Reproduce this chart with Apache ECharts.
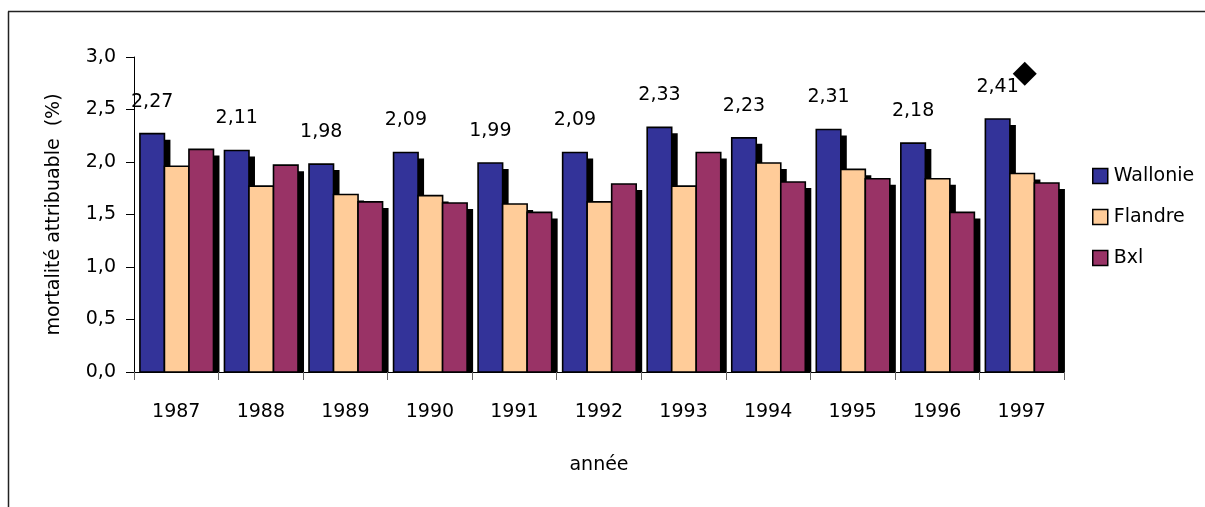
<!DOCTYPE html>
<html>
<head>
<meta charset="utf-8">
<script src="https://cdn.jsdelivr.net/npm/echarts@6/dist/echarts.min.js"></script>
<style>
html,body{margin:0;padding:0;background:#fff;}
#chart{width:1205px;height:507px;}
</style>
</head>
<body>
<div id="chart"></div>
<script>
var years = ['1987','1988','1989','1990','1991','1992','1993','1994','1995','1996','1997'];
var wallonie = [2.27, 2.11, 1.98, 2.09, 1.99, 2.09, 2.33, 2.23, 2.31, 2.18, 2.41];
var flandre  = [1.96, 1.77, 1.69, 1.68, 1.60, 1.62, 1.77, 1.99, 1.93, 1.84, 1.89];
var bxl      = [2.12, 1.97, 1.62, 1.61, 1.52, 1.79, 2.09, 1.81, 1.84, 1.52, 1.80];
var markerPoint = [['1997', 2.84]];
var yTicks = [0, 0.5, 1.0, 1.5, 2.0, 2.5, 3.0];

var FONT = 'DejaVu Sans';
var colors = {Wallonie:'#333399', Flandre:'#FFCC99', Bxl:'#993366'};

function fmt(v, d){ return v.toFixed(d).replace('.', ','); }

function makeRender(idx, withLabel){
  return function(params, api){
    var ci = api.value(0), val = api.value(1);
    var base = api.coord([ci, 0]);
    var top = api.coord([ci, val]);
    var bandW = api.size([1, 0])[0];
    var barW = bandW * 0.29;
    var x = base[0] - bandW/2 + bandW*0.07 + idx*barW;
    var h = base[1] - top[1];
    var children = [
      {type:'rect', shape:{x:x+6, y:top[1]+6, width:barW, height:Math.max(0,h-6)}, style:{fill:'#000'}},
      {type:'rect', shape:{x:x, y:top[1], width:barW, height:h}, style:api.style({stroke:'#000', lineWidth:1.6})}
    ];
    if (withLabel){
      children.push({type:'text', x:x+barW/2, y:top[1]-32,
        style:{text:fmt(val,2), align:'center', verticalAlign:'middle', fontSize:19, fontFamily:FONT, fill:'#000'}});
    }
    return {type:'group', children:children};
  };
}

function seriesData(arr){ return arr.map(function(v,i){ return [i, v]; }); }

var chart = echarts.init(document.getElementById('chart'), null, {renderer:'canvas'});
chart.setOption({
  animation:false,
  backgroundColor:'#fff',
  textStyle:{fontFamily:FONT},
  graphic:[
    {type:'line', shape:{x1:8.5, y1:11.5, x2:8.5, y2:507}, style:{stroke:'#222', lineWidth:1.5}},
    {type:'line', shape:{x1:8, y1:11.5, x2:1205, y2:11.5}, style:{stroke:'#222', lineWidth:1.5}}
  ],
  grid:{left:134, right:141, top:57, bottom:135},
  legend:{
    orient:'vertical', left:1092, top:166, padding:0, itemWidth:15, itemHeight:15, itemGap:21,
    icon:'rect',
    textStyle:{fontSize:19, fontFamily:FONT, color:'#000', lineHeight:20, padding:[0,0,0,1]},
    data:[
      {name:'Wallonie', itemStyle:{color:colors.Wallonie, borderColor:'#000', borderWidth:1.5}},
      {name:'Flandre', itemStyle:{color:colors.Flandre, borderColor:'#000', borderWidth:1.5}},
      {name:'Bxl', itemStyle:{color:colors.Bxl, borderColor:'#000', borderWidth:1.5}}
    ]
  },
  xAxis:{
    type:'category', data:years,
    name:'année', nameLocation:'middle', nameGap:84,
    nameTextStyle:{fontSize:19, fontFamily:FONT, color:'#000'},
    axisLine:{lineStyle:{color:'#000', width:1}},
    axisTick:{show:true, length:8, lineStyle:{color:'#666'}},
    axisLabel:{fontSize:19, fontFamily:FONT, color:'#000', margin:31},
    splitLine:{show:false}
  },
  yAxis:{
    type:'value', min:yTicks[0], max:yTicks[yTicks.length-1], interval:0.5,
    name:'mortalité attribuable  (%)', nameLocation:'middle', nameGap:70, nameRotate:90,
    nameTextStyle:{fontSize:19, fontFamily:FONT, color:'#000'},
    axisLine:{show:true, lineStyle:{color:'#000', width:1}},
    axisTick:{show:true, length:8, lineStyle:{color:'#000'}},
    axisLabel:{fontSize:19, fontFamily:FONT, color:'#000', margin:18, formatter:function(v){ return fmt(v,1); }},
    splitLine:{show:false}
  },
  series:[
    {name:'Wallonie', type:'custom', renderItem:makeRender(0,true), data:seriesData(wallonie), encode:{x:0,y:1},
     itemStyle:{color:colors.Wallonie, borderColor:'#000', borderWidth:1.5}, z:2},
    {name:'Flandre', type:'custom', renderItem:makeRender(1,false), data:seriesData(flandre), encode:{x:0,y:1},
     itemStyle:{color:colors.Flandre, borderColor:'#000', borderWidth:1.5}, z:3},
    {name:'Bxl', type:'custom', renderItem:makeRender(2,false), data:seriesData(bxl), encode:{x:0,y:1},
     itemStyle:{color:colors.Bxl, borderColor:'#000', borderWidth:1.5}, z:4},
    {name:'marker', type:'scatter', data:markerPoint, symbol:'diamond', symbolSize:[24,24], symbolOffset:[3,0],
     itemStyle:{color:'#000', opacity:1}, z:6}
  ]
});
</script>
</body>
</html>
